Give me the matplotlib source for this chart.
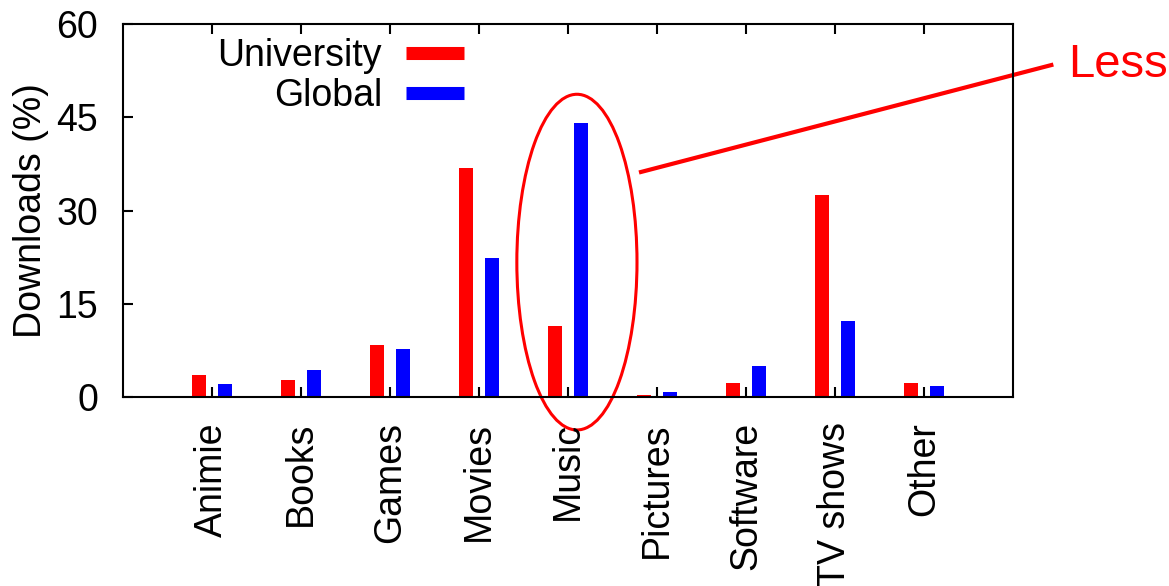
import numpy as np
import matplotlib.pyplot as plt
from matplotlib.lines import Line2D
from matplotlib.patches import Ellipse

# datos
categorias = ["Animie", "Books", "Games", "Movies", "Music", "Pictures",
              "Software", "TV shows", "Other"]
university = [3.5, 2.8, 8.4, 36.8, 11.5, 0.3, 2.25, 32.5, 2.25]
global_dl = [2.1, 4.3, 7.7, 22.4, 44.0, 0.8, 5.0, 12.2, 1.8]
yticks = [0, 15, 30, 45, 60]

plt.rcParams['font.family'] = ['Liberation Sans', 'DejaVu Sans']

ROJO = '#ff0000'
AZUL = '#0000ff'

fig = plt.figure(figsize=(11.69, 5.86), dpi=100)
ax = fig.add_axes([0.1052, 0.3225, 0.7614, 0.6365])

x = np.arange(1, len(categorias) + 1)
ancho = 0.15
ax.bar(x - 0.145, university, ancho, color=ROJO)
ax.bar(x + 0.145, global_dl, ancho, color=AZUL)

ax.set_xlim(0, 10)
ax.set_ylim(0, 60)
ax.set_yticks(yticks)
ax.set_xticks(x)
ax.set_xticklabels(categorias, rotation=90)
ax.tick_params(axis='x', direction='in', top=True, length=7, width=1.5,
               labelsize=27, pad=18)
ax.tick_params(axis='y', direction='in', right=False, length=7, width=1.5,
               labelsize=27, pad=18)
for s in ax.spines.values():
    s.set_linewidth(1.5)

ax.set_ylabel("Downloads (%)", fontsize=27)
ax.yaxis.set_label_coords(-0.083, 0.5)

# leyenda estilo gnuplot (texto a la izquierda)
handles = [Line2D([], [], color=ROJO, lw=9.4, solid_capstyle='butt'),
           Line2D([], [], color=AZUL, lw=9.4, solid_capstyle='butt')]
ax.legend(handles, ["University", "Global"], loc='upper right',
          bbox_to_anchor=(464 / 1169, 1 - 38 / 586),
          bbox_transform=fig.transFigure, frameon=False, markerfirst=False,
          fontsize=27, handlelength=1.55, handletextpad=0.64,
          borderpad=0, borderaxespad=0, labelspacing=0.12)

# anotacion: elipse sobre Music y linea hacia el texto
ax.add_patch(Ellipse((5.1, 21.7), 1.35, 54, fill=False, edgecolor=ROJO,
                     lw=2.2, clip_on=False))
ax.plot([5.82, 10.43], [36.2, 53.4], color=ROJO, lw=3, clip_on=False)
fig.text(1068 / 1169, 1 - 77 / 586, "Less", color=ROJO, fontsize=34,
         va='baseline')

fig.savefig('out.png', dpi=100)
